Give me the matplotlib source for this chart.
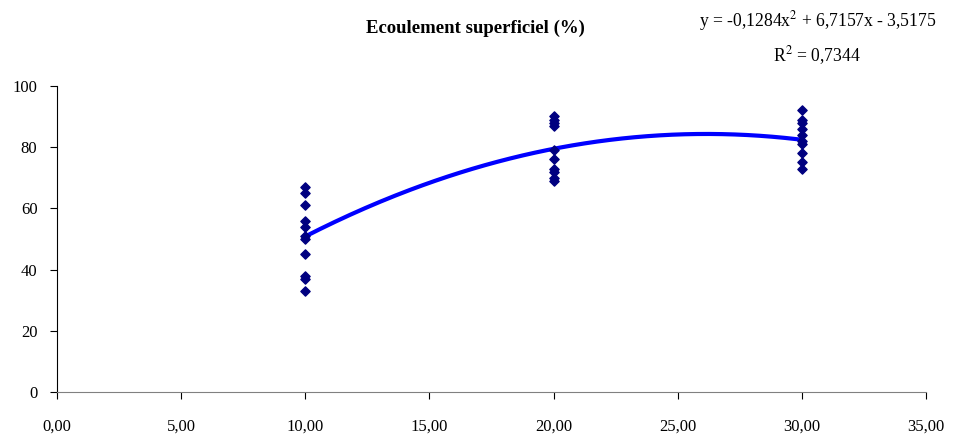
import numpy as np
import matplotlib
matplotlib.use("Agg")
import matplotlib.pyplot as plt
from matplotlib.ticker import FuncFormatter

plt.rcParams["font.family"] = ["Liberation Serif", "DejaVu Serif"]

# Donnees
x10 = [10] * 11
y10 = [67, 65, 61, 56, 54, 51, 50, 45, 38, 37, 33]
x20 = [20] * 10
y20 = [90, 89, 88, 87, 79, 76, 73, 72, 70, 69]
x30 = [30] * 10
y30 = [92, 89, 88, 86, 84, 82, 81, 78, 75, 73]

# Courbe de tendance (polynome affiche)
coefs = [-0.1284, 6.7157, -3.5175]

x = x10 + x20 + x30
y = y10 + y20 + y30

fig = plt.figure(figsize=(9.64, 4.36), dpi=100)
ax = fig.add_axes([0.059, 0.101, 0.9016, 0.702])

ax.scatter(x, y, marker="D", s=22, color="#000080", zorder=3)

xt = np.linspace(10, 30, 200)
ax.plot(xt, np.polyval(coefs, xt), color="#0000FF", lw=3, zorder=2)

ax.set_xlim(0, 35)
ax.set_ylim(0, 100)
ax.set_xticks(np.arange(0, 36, 5))
ax.set_yticks(np.arange(0, 101, 20))
ax.xaxis.set_major_formatter(FuncFormatter(lambda v, p: f"{v:.2f}".replace(".", ",")))

for s in ["top", "right"]:
    ax.spines[s].set_visible(False)
ax.spines["bottom"].set_color("#808080")
ax.tick_params(axis="both", labelsize=12, direction="out", length=5)
ax.tick_params(axis="x", color="black", pad=14)
ax.tick_params(axis="y", pad=9)

fig.text(0.493, 0.935, "Ecoulement superficiel (%)", ha="center", va="center",
         fontsize=13.5, fontweight="bold")
fig.text(0.848, 0.952, r"y = -0,1284x$^2$ + 6,7157x - 3,5175", ha="center",
         va="center", fontsize=12.7, math_fontfamily="stix")
fig.text(0.848, 0.872, r"R$^2$ = 0,7344", ha="center", va="center", fontsize=12.7,
         math_fontfamily="stix")

fig.savefig("out.png", dpi=100)
